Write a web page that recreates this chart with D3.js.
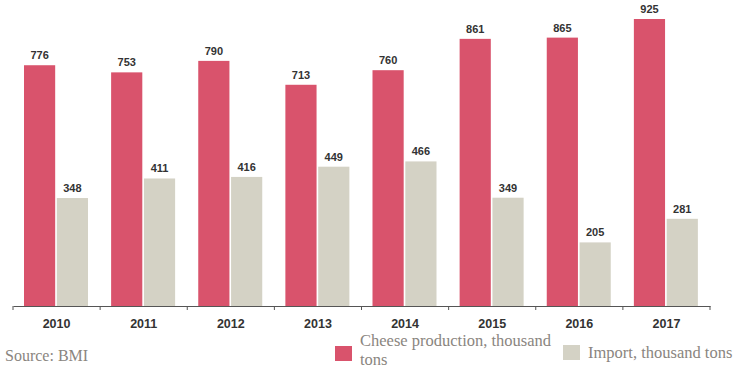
<!DOCTYPE html>
<html>
<head>
<meta charset="utf-8">
<script src="https://cdn.jsdelivr.net/npm/d3@7/dist/d3.min.js"></script>
<style>
  body { margin: 0; background: #fff; }
</style>
</head>
<body>
<script>
var years = ["2010", "2011", "2012", "2013", "2014", "2015", "2016", "2017"];
var production = [776, 753, 790, 713, 760, 861, 865, 925];
var imports = [348, 411, 416, 449, 466, 349, 205, 281];
var seriesNames = ["Cheese production, thousand tons", "Import, thousand tons"];

var width = 745, height = 370;

var svg = d3.select("body").append("svg")
    .attr("width", width)
    .attr("height", height);

var baseY = 306;

// Scales
var x = d3.scaleBand()
    .domain(years)
    .range([13, 710])
    .padding(0);

var y = d3.scaleLinear()
    .domain([0, 925])
    .range([baseY, 19]);

var colors = ["#d9536c", "#d4d2c5"];

var data = years.map(function (yr, i) {
    return { year: yr, values: [production[i], imports[i]] };
});

// sub-band inside each year
var sub = d3.scaleBand()
    .domain([0, 1])
    .range([11, 75])
    .paddingInner(0.05);

var groups = svg.append("g")
    .selectAll("g")
    .data(data)
    .enter().append("g")
    .attr("transform", function (d) { return "translate(" + x(d.year) + ",0)"; });

groups.selectAll("rect")
    .data(function (d) { return d.values.map(function (v, k) { return { v: v, k: k }; }); })
    .enter().append("rect")
    .attr("x", function (d) { return sub(d.k); })
    .attr("width", sub.bandwidth())
    .attr("y", function (d) { return y(d.v); })
    .attr("height", function (d) { return baseY - y(d.v); })
    .attr("fill", function (d) { return colors[d.k]; });

groups.selectAll("text")
    .data(function (d) { return d.values.map(function (v, k) { return { v: v, k: k }; }); })
    .enter().append("text")
    .attr("x", function (d) { return sub(d.k) + sub.bandwidth() / 2; })
    .attr("y", function (d) { return y(d.v) - 6; })
    .attr("text-anchor", "middle")
    .attr("font-family", "Liberation Sans, Arial, sans-serif")
    .attr("font-weight", "bold")
    .attr("font-size", "11px")
    .attr("fill", "#333")
    .text(function (d) { return d.v; });

// Axis
var axis = svg.append("g")
    .attr("transform", "translate(0," + baseY + ")")
    .call(d3.axisBottom(x).tickSize(0).tickPadding(13));

axis.select(".domain").attr("stroke", "#555");
axis.selectAll(".tick text")
    .attr("font-family", "Liberation Sans, Arial, sans-serif")
    .attr("font-weight", "bold")
    .attr("font-size", "12.5px")
    .attr("fill", "#333");

// tick marks on category boundaries
var bounds = years.map(function (yr) { return x(yr); }).concat([x.range()[1]]);
svg.append("g").selectAll("line")
    .data(bounds)
    .enter().append("line")
    .attr("x1", function (d) { return d; })
    .attr("x2", function (d) { return d; })
    .attr("y1", baseY)
    .attr("y2", baseY + 4)
    .attr("stroke", "#555");

// Source
var serif = "Liberation Serif, Times New Roman, serif";
svg.append("text")
    .attr("x", 5)
    .attr("y", 361)
    .attr("font-family", serif)
    .attr("font-size", "16px")
    .attr("fill", "#8a8580")
    .text("Source: BMI");

// Legend
svg.append("rect").attr("x", 335).attr("y", 346).attr("width", 17).attr("height", 15).attr("fill", colors[0]);
svg.append("text")
    .attr("font-family", serif)
    .attr("font-size", "16.5px")
    .attr("fill", "#8a8580")
    .selectAll("tspan")
    .data(["Cheese production, thousand", "tons"])
    .enter().append("tspan")
    .attr("x", 360)
    .attr("y", function (d, i) { return 346 + i * 19; })
    .text(function (d) { return d; });

svg.append("rect").attr("x", 563).attr("y", 345).attr("width", 17).attr("height", 15).attr("fill", colors[1]);
svg.append("text")
    .attr("x", 588)
    .attr("y", 358)
    .attr("font-family", serif)
    .attr("font-size", "16.5px")
    .attr("fill", "#8a8580")
    .text(seriesNames[1]);
</script>
</body>
</html>
